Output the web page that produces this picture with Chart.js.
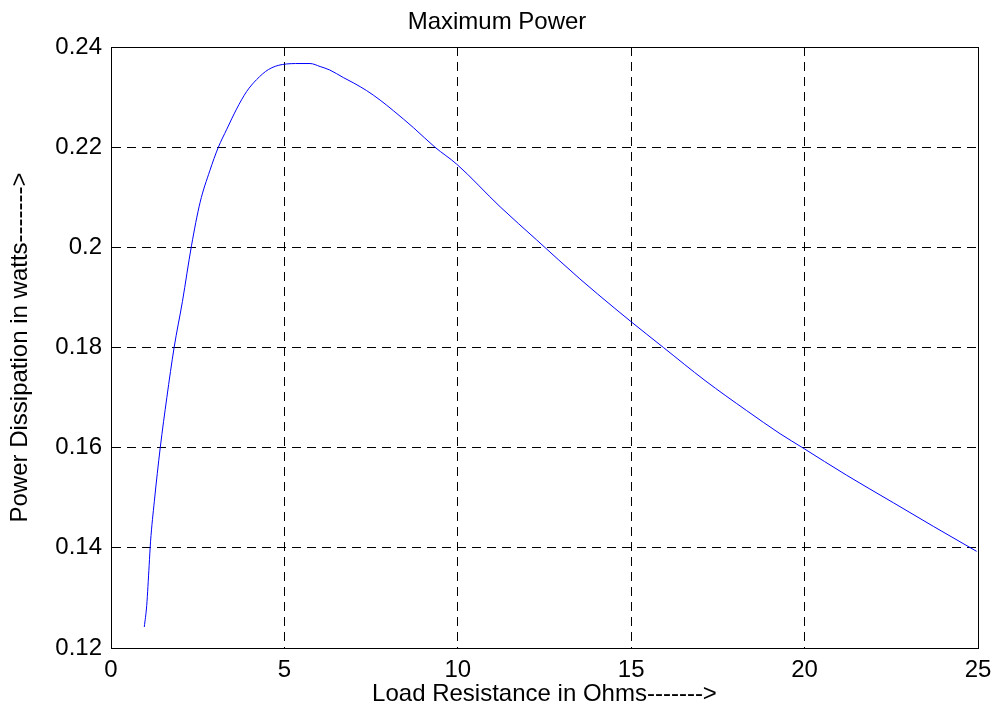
<!DOCTYPE html>
<html>
<head>
<meta charset="utf-8">
<script src="https://cdn.jsdelivr.net/npm/chart.js@4/dist/chart.umd.min.js"></script>
<style>
  html, body { margin: 0; padding: 0; background: #fff; }
  #wrap { width: 994px; height: 706px; }
</style>
</head>
<body>
<div id="wrap"><canvas id="myChart" width="994" height="706"></canvas></div>
<script>
// values
var resistance = [0.96, 1.03, 1.10, 1.14, 1.25, 1.42, 1.61, 1.82, 2.06, 2.32, 2.57, 2.85, 3.09, 3.34, 3.62, 3.91, 4.20, 4.54, 4.94, 5.45, 5.74, 6.03, 6.31, 6.70, 7.0, 7.37, 7.76, 8.14, 8.72, 9.34, 9.97, 11.22, 12.27, 13.52, 14.53, 14.97, 15.93, 17.13, 18.33, 19.29, 19.94, 21.21, 22.56, 23.71, 24.96];
var power = [0.1242, 0.1285, 0.1365, 0.1412, 0.1493, 0.1600, 0.1700, 0.1800, 0.1892, 0.2003, 0.2090, 0.2153, 0.2199, 0.2236, 0.2276, 0.2311, 0.2335, 0.2355, 0.2365, 0.2367, 0.2367, 0.2361, 0.2354, 0.2339, 0.2328, 0.2313, 0.2294, 0.2273, 0.2239, 0.2200, 0.2166, 0.2081, 0.2015, 0.1937, 0.1878, 0.1853, 0.1800, 0.1734, 0.1674, 0.1628, 0.1600, 0.1545, 0.1490, 0.1443, 0.1393];
var xTicks = [0, 5, 10, 15, 20, 25];
var yTicks = [0.12, 0.14, 0.16, 0.18, 0.2, 0.22, 0.24];

var pts = [];
for (var i = 0; i < resistance.length; i++) {
    pts.push({ x: resistance[i], y: power[i] });
}

// box round the plot area, like matlab
var boxPlugin = {
    id: 'box',
    afterDraw: function (chart) {
        var a = chart.chartArea;
        var c = chart.ctx;
        c.save();
        c.strokeStyle = '#000';
        c.lineWidth = 1;
        c.strokeRect(Math.round(a.left) + 0.5, Math.round(a.top) + 0.5, Math.round(a.right - a.left), Math.round(a.bottom - a.top));
        c.restore();
    }
};

var font = "'Liberation Sans', Arial, sans-serif";

var ctx = document.getElementById('myChart').getContext('2d');
var chart = new Chart(ctx, {
    type: 'line',
    data: {
        datasets: [{
            data: pts,
            borderColor: '#0000ff',
            borderWidth: 1,
            pointRadius: 0,
            fill: false,
            cubicInterpolationMode: 'monotone'
        }]
    },
    options: {
        responsive: false,
        animation: false,
        layout: { padding: { left: 0, right: 0, top: 0, bottom: 0 } },
        plugins: {
            legend: { display: false },
            tooltip: { enabled: false },
            title: {
                display: true,
                text: 'Maximum Power',
                color: '#000',
                font: { family: font, size: 24, weight: 'normal', lineHeight: 1 },
                padding: { top: 10, bottom: 13 }
            }
        },
        scales: {
            x: {
                type: 'linear',
                min: 0,
                max: 25,
                afterBuildTicks: function (s) { s.ticks = xTicks.map(function (v) { return { value: v }; }); },
                afterFit: function (s) { s.height = 58; s.paddingLeft = 0; s.paddingRight = 16; },
                grid: { color: '#000', lineWidth: 1, drawTicks: false },
                border: { display: true, color: '#000', dash: [9, 6] },
                ticks: { color: '#000', padding: 10, font: { family: font, size: 24, lineHeight: 1 }, maxRotation: 0 },
                title: {
                    display: true,
                    text: 'Load Resistance in Ohms------->',
                    color: '#000',
                    font: { family: font, size: 24, lineHeight: 1 },
                    padding: { top: 0, bottom: 0 }
                }
            },
            y: {
                min: 0.12,
                max: 0.24,
                afterBuildTicks: function (s) { s.ticks = yTicks.map(function (v) { return { value: v }; }); },
                afterFit: function (s) { s.width = 111; },
                grid: { color: '#000', lineWidth: 1, drawTicks: false },
                border: { display: true, color: '#000', dash: [9, 6] },
                ticks: {
                    color: '#000',
                    padding: 9,
                    font: { family: font, size: 24, lineHeight: 1 },
                    callback: function (v) { return String(Number(v.toFixed(2))); }
                },
                title: {
                    display: true,
                    text: 'Power Dissipation in watts------->',
                    color: '#000',
                    font: { family: font, size: 24, lineHeight: 1 },
                    padding: { top: 8, bottom: 0 }
                }
            }
        }
    },
    plugins: [boxPlugin]
});
</script>
</body>
</html>
